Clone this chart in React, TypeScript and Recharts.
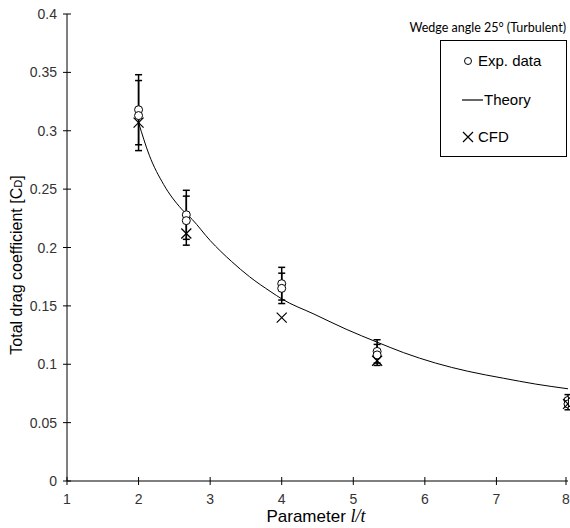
import {
	ComposedChart,
	ErrorBar,
	Line,
	Scatter,
	XAxis,
	YAxis,
} from "recharts";

// l/t positions of the measured cases
const caseX = [2, 2.667, 4, 5.333, 8];

// Experimental data (two runs), with ± error
const expA = [0.318, 0.228, 0.169, 0.111, 0.069];
const expAErr = [0.03, 0.021, 0.014, 0.01, 0.005];
const expB = [0.313, 0.223, 0.165, 0.108, 0.066];
const expBErr = [0.03, 0.021, 0.013, 0.009, 0.005];

// CFD results
const cfd = [0.307, 0.212, 0.14, 0.103, 0.066];

// Theory curve
const theoryX = [
	2, 2.15, 2.35, 2.6, 2.75, 3, 3.3, 3.55, 3.85, 4, 4.45, 4.9, 5.33, 5.7, 6.15,
	6.6, 7.1, 7.55, 8,
];
const theoryY = [
	0.307, 0.279, 0.254, 0.233, 0.224, 0.206, 0.188, 0.175, 0.162, 0.156, 0.143,
	0.13, 0.119, 0.11, 0.101, 0.094, 0.088, 0.083, 0.079,
];

const xTicks = [1, 2, 3, 4, 5, 6, 7, 8];
const yTicks = [0, 0.05, 0.1, 0.15, 0.2, 0.25, 0.3, 0.35, 0.4];

const W = 570;
const H = 528;
const FONT = "'Liberation Sans', Arial, sans-serif";

const expAData = caseX.map((x, i) => ({ x, y: expA[i], err: expAErr[i] }));
const expBData = caseX.map((x, i) => ({ x, y: expB[i], err: expBErr[i] }));
const cfdData = caseX.map((x, i) => ({ x, y: cfd[i] }));
const theoryData = theoryX.map((x, i) => ({ x, y: theoryY[i] }));

function YTick(props: any) {
	const { x, y, payload } = props;
	return (
		<g>
			<line x1={x + 6} x2={x + 14} y1={y} y2={y} stroke="#000" />
			<text
				x={x}
				y={y}
				dy="0.36em"
				textAnchor="end"
				fontSize={14}
				fontFamily={FONT}
				fill="#333"
			>
				{String(payload.value)}
			</text>
		</g>
	);
}

function XTick(props: any) {
	const { x, y, payload } = props;
	return (
		<g>
			<line x1={x} x2={x} y1={y - 17} y2={y - 9} stroke="#000" />
			<text
				x={x}
				y={y}
				dy="0.71em"
				textAnchor="middle"
				fontSize={14}
				fontFamily={FONT}
				fill="#333"
			>
				{String(payload.value)}
			</text>
		</g>
	);
}

function Circle(props: any) {
	const { cx, cy } = props;
	return <circle cx={cx} cy={cy} r={4} fill="#fff" stroke="#000" />;
}

function Cross(props: any) {
	const { cx, cy } = props;
	const s = 5;
	return (
		<path
			d={`M${cx - s},${cy - s}L${cx + s},${cy + s}M${cx - s},${cy + s}L${cx + s},${cy - s}`}
			stroke="#000"
			strokeWidth={1.2}
			fill="none"
		/>
	);
}

export default function App() {
	return (
		<div
			style={{
				position: "absolute",
				left: 0,
				top: 0,
				width: W,
				height: H,
				background: "#fff",
			}}
		>
			<ComposedChart
				width={W}
				height={H}
				margin={{ top: 14, right: 2, bottom: 0, left: 0 }}
			>
				<XAxis
					type="number"
					dataKey="x"
					domain={[1, 8]}
					ticks={xTicks}
					height={47}
					tickSize={4}
					tickMargin={9}
					tickLine={false}
					tick={<XTick />}
					stroke="#000"
					allowDataOverflow
				/>
				<YAxis
					type="number"
					dataKey="y"
					domain={[0, 0.4]}
					ticks={yTicks}
					width={67}
					tickSize={4}
					tickMargin={6}
					tickLine={false}
					tick={<YTick />}
					stroke="#000"
					allowDataOverflow
				/>
				<Line
					data={theoryData}
					dataKey="y"
					type="monotone"
					stroke="#000"
					strokeWidth={1}
					dot={false}
					activeDot={false}
					isAnimationActive={false}
				/>
				<Scatter data={expAData} shape={<Circle />} isAnimationActive={false}>
					<ErrorBar
						dataKey="err"
						direction="y"
						width={3.5}
						stroke="#000"
						strokeWidth={1.5}
					/>
				</Scatter>
				<Scatter data={expBData} shape={<Circle />} isAnimationActive={false}>
					<ErrorBar
						dataKey="err"
						direction="y"
						width={3.5}
						stroke="#000"
						strokeWidth={1.5}
					/>
				</Scatter>
				<Scatter data={cfdData} shape={<Cross />} isAnimationActive={false} />
			</ComposedChart>
			<svg
				width={W}
				height={H}
				style={{ position: "absolute", left: 0, top: 0, pointerEvents: "none" }}
			>
				<text
					x={566}
					y={32}
					textAnchor="end"
					fontSize={12.5}
					fontFamily="Lato, 'Open Sans', sans-serif"
					fill="#000"
				>
					Wedge angle 25° (Turbulent)
				</text>
				<rect x={440.5} y={40.5} width={126} height={116} fill="#fff" stroke="#000" />
				<circle cx={468} cy={61} r={3.5} fill="#fff" stroke="#000" />
				<text x={478} y={66} fontSize={15} fontFamily={FONT} fill="#000">
					Exp. data
				</text>
				<line x1={462} x2={483} y1={100} y2={100} stroke="#000" strokeWidth={1.2} />
				<text x={484} y={105} fontSize={15} fontFamily={FONT} fill="#000">
					Theory
				</text>
				<path d="M463,132L473,142M463,142L473,132" stroke="#000" strokeWidth={1.2} />
				<text x={478} y={142} fontSize={15} fontFamily={FONT} fill="#000">
					CFD
				</text>
				<text
					x={316}
					y={522}
					textAnchor="middle"
					fontSize={17}
					fontFamily={FONT}
					fill="#000"
				>
					Parameter{" "}
					<tspan fontFamily="'Liberation Serif', 'DejaVu Serif', serif" fontStyle="italic" fontSize={18}>
						l/t
					</tspan>
				</text>
				<text
					x={22}
					y={265}
					transform="rotate(-90 22 265)"
					textAnchor="middle"
					fontSize={16}
					fontFamily={FONT}
					fill="#000"
				>
					Total drag coefficient [C<tspan fontSize={11}>D</tspan>]
				</text>
			</svg>
		</div>
	);
}
